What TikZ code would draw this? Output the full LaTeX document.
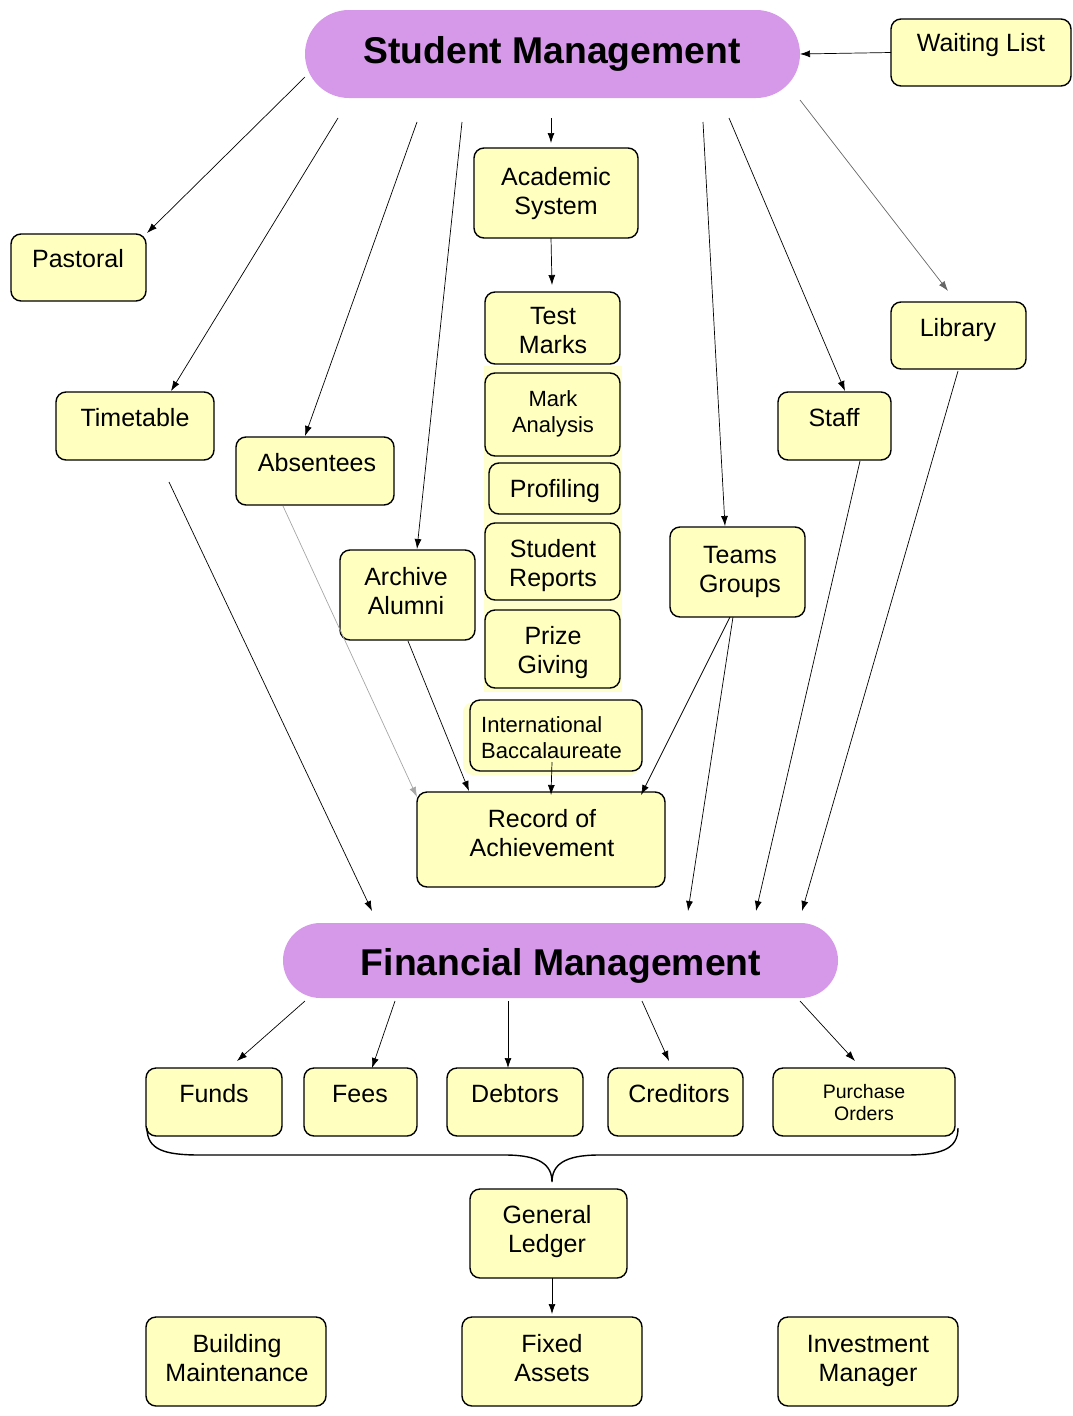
\documentclass[tikz,border=0pt]{standalone}
\usepackage{fontspec}
\setmainfont{Liberation Sans}
\usetikzlibrary{arrows.meta}
\definecolor{boxyellow}{RGB}{255,255,192}
\definecolor{stripyellow}{RGB}{255,255,206}
\definecolor{pill}{RGB}{214,152,232}
\newcommand\bx[5]{\node[box, minimum width={#4-#2}, minimum height={#5-#3}] (#1) at ({(#2+#4)/2},{(#3+#5)/2}) {};}
\begin{document}
\begin{tikzpicture}[x=1pt,y=-1pt,
  box/.style={draw=black, line width=1.4pt, fill=boxyellow, rounded corners=10pt, inner sep=0pt, outer sep=0pt},
  pillbox/.style={fill=pill, inner sep=0pt, outer sep=0pt},
  t25/.style={anchor=north, inner sep=0pt, align=center, yshift=20.3pt, font=\fontsize{25}{29}\selectfont},
  t22/.style={anchor=north, inner sep=0pt, align=center, yshift=18.2pt, font=\fontsize{22}{26}\selectfont},
  t19/.style={anchor=north, inner sep=0pt, align=center, yshift=15.4pt, font=\fontsize{19.5}{22}\selectfont},
  ttl/.style={anchor=base, inner sep=0pt, font=\fontsize{37.3}{44}\selectfont\bfseries},
  arr/.style={-{Latex[length=10pt,width=7pt]}, line width=0.7pt, black},
  garr/.style={arr, draw=black!35},
  marr/.style={arr, draw=black!60},
]
\useasboundingbox (0,0) rectangle (1073,1416);

% pale background strip of the academic column and glow behind IB
\fill[stripyellow] (484,366) rectangle (622,692);
\fill[stripyellow, rounded corners=10pt] (463,702) rectangle (640,775);

% title pills
\node[pillbox, minimum width=495, minimum height=88, rounded corners=44pt] (sm) at (552.5,54) {};
\node[ttl] (smt) at (552,63.5) {Student Management};
\node[pillbox, minimum width=555, minimum height=75, rounded corners=37.5pt] (fm) at (560.5,960.5) {};
\node[ttl] (fmt) at (561,975) {Financial Management};

% boxes
\bx{wl}{891}{19}{1071}{86}
\bx{acad}{474}{148}{638}{238}
\bx{past}{11}{234}{146}{301}
\bx{test}{485}{292}{620}{364}
\bx{mark}{485}{373}{620}{456}
\bx{prof}{489}{463}{620}{514}
\bx{srep}{485}{523}{620}{600}
\bx{prize}{485}{610}{620}{688}
\bx{lib}{891}{302}{1026}{369}
\bx{tt}{56}{392}{214}{460}
\bx{staff}{778}{392}{891}{460}
\bx{abs}{236}{437}{394}{505}
\bx{arch}{340}{550}{475}{640}
\bx{teams}{670}{527}{805}{617}
\bx{ib}{470}{700}{642}{771}
\bx{roa}{417}{792}{665}{887}
\bx{funds}{146}{1068}{282}{1136}
\bx{fees}{304}{1068}{417}{1136}
\bx{debt}{447}{1068}{583}{1136}
\bx{cred}{608}{1068}{743}{1136}
\bx{po}{773}{1068}{955}{1136}
\bx{gl}{470}{1189}{627}{1278}
\bx{bm}{146}{1317}{326}{1406}
\bx{fa}{462}{1317}{642}{1406}
\bx{im}{778}{1317}{958}{1406}

% texts
\node[t25] at (981,51.5) {\strut Waiting List};
\node[t25] at (556,185) {\strut Academic\\System};
\node[t25] at (78,267) {\strut Pastoral};
\node[t25] at (553,324) {\strut Test\\Marks};
\node[t22] at (553,406) {\strut Mark\\Analysis};
\node[t25] at (555,497) {\strut Profiling};
\node[t25] at (553,557) {\strut Student\\Reports};
\node[t25] at (553,644) {\strut Prize\\Giving};
\node[t22, align=left, anchor=north west] at (481,732) {\strut International\\Baccalaureate};
\node[t25] at (542,827) {\strut Record of\\Achievement};
\node[t25] at (958,336) {\strut Library};
\node[t25] at (135,426) {\strut Timetable};
\node[t25] at (834,426) {\strut Staff};
\node[t25] at (317,471) {\strut Absentees};
\node[t25] at (406,585) {\strut Archive\\Alumni};
\node[t25] at (740,563) {\strut Teams\\Groups};
\node[t25] at (214,1102) {\strut Funds};
\node[t25] at (360,1102) {\strut Fees};
\node[t25] at (515,1102) {\strut Debtors};
\node[t25] at (679,1102) {\strut Creditors};
\node[t19] at (864,1098) {\strut Purchase\\Orders};
\node[t25] at (547,1223) {\strut General\\Ledger};
\node[t25] at (237,1352) {\strut Building\\Maintenance};
\node[t25] at (552,1352) {\strut Fixed\\Assets};
\node[t25] at (868,1352) {\strut Investment\\Manager};

% free ends of connectors
\foreach \n/\x/\y in {
  s2/305/77, e2/147/233, s3/338/118, e3/171/391, s4/417/122, e4/305/436,
  s5/462/122, e5/417/549, s6/551/118, e6/551/143, e7/552/285,
  s8/703/122, e8/725/526, s9/729/118, e9/845/391, s10/800/100, e10/948/291,
  s11/169/482, e11/372/911, s12/283/506, e12/417/797, s13/408/641, e13/469/791,
  s14/552/762, e14/551/795, s15/730/617, e15/641/795, s16/733/617, e16/688/911,
  s17/860/461, e17/756/911, s18/958/371, e18/802/911,
  s19/305/1001, e19/237/1061, s20/395/1001, e20/372/1068, s21/508/1001, e21/508/1068,
  s22/642/1001, e22/669/1061, s23/800/1001, e23/855/1061, e24/552/1314}
  {\coordinate (\n) at (\x,\y);}
\coordinate (e1) at (800,54);

% connectors
\draw[arr] (wl.west) -- (e1);
\draw[arr] (s2) -- (e2);
\draw[arr] (s3) -- (e3);
\draw[arr] (s4) -- (e4);
\draw[arr] (s5) -- (e5);
\draw[arr] (s6) -- (e6);
\draw[arr] (acad.south -| s6) -- (e7);
\draw[arr] (s8) -- (e8);
\draw[arr] (s9) -- (e9);
\draw[marr] (s10) -- (e10);
\draw[arr] (s11) -- (e11);
\draw[garr] (s12) -- (e12);
\draw[arr] (s13) -- (e13);
\draw[arr] (s14) -- (e14);
\draw[arr] (s15) -- (e15);
\draw[arr] (s16) -- (e16);
\draw[arr] (s17) -- (e17);
\draw[arr] (s18) -- (e18);
\draw[arr] (s19) -- (e19);
\draw[arr] (s20) -- (e20);
\draw[arr] (s21) -- (e21);
\draw[arr] (s22) -- (e22);
\draw[arr] (s23) -- (e23);
\draw[arr] (gl.south -| e24) -- (e24);

% brace
\draw[line width=1.4pt] (147,1128) .. controls (147,1150) and (165,1155) .. (200,1155)
  -- (505,1155) .. controls (540,1155) and (552,1165) .. (552,1182)
  .. controls (552,1165) and (564,1155) .. (599,1155)
  -- (905,1155) .. controls (940,1155) and (958,1150) .. (958,1128);
\end{tikzpicture}
\end{document}
